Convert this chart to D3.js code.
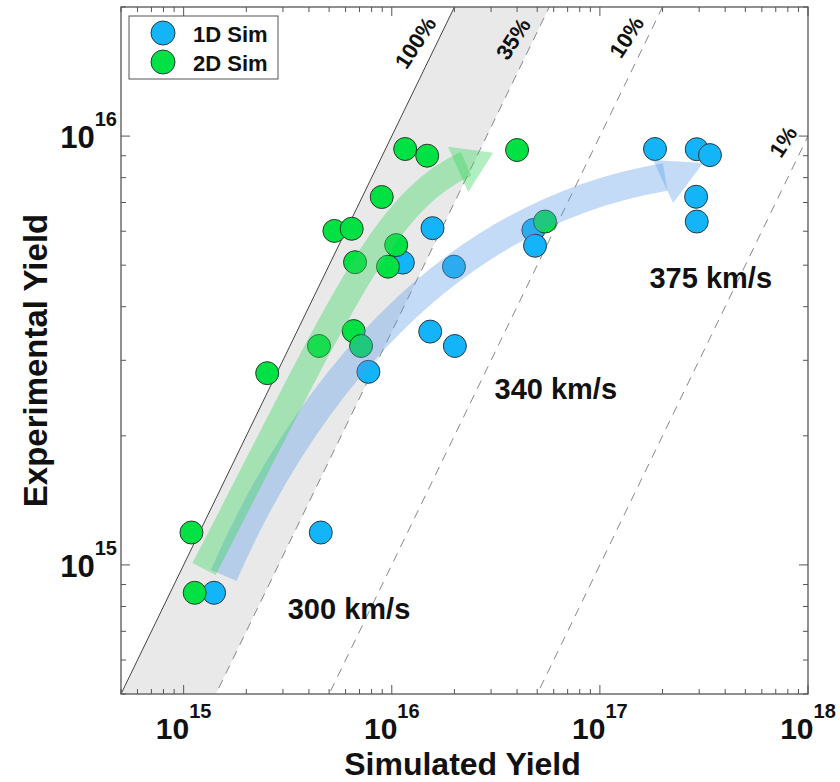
<!DOCTYPE html>
<html><head><meta charset="utf-8">
<script src="https://cdn.jsdelivr.net/npm/d3@7"></script>
<style>
body{margin:0;background:#fff}
text{font-family:"Liberation Sans",Arial,Helvetica,sans-serif;font-weight:bold;fill:#111}
</style>
</head><body>
<svg id="c" width="840" height="782"></svg>
<script>
// ---------------- data ----------------
const sim1D = [1.40e15, 4.56e15, 7.72e15, 1.53e16, 2.01e16, 1.13e16, 1.99e16, 1.57e16, 4.79e16, 4.88e16, 1.84e17, 2.92e17, 3.38e17, 2.90e17, 2.92e17];
const exp1D = [8.61e14, 1.19e15, 2.82e15, 3.50e15, 3.24e15, 5.07e15, 4.96e15, 6.10e15, 6.04e15, 5.55e15, 9.33e15, 9.32e15, 9.03e15, 7.22e15, 6.32e15];
const sim2D = [1.09e15, 1.13e15, 2.52e15, 4.47e15, 6.56e15, 7.12e15, 6.66e15, 9.59e15, 1.05e16, 5.30e15, 6.42e15, 8.95e15, 1.16e16, 1.48e16, 4.00e16, 5.45e16];
const exp2D = [1.19e15, 8.61e14, 2.80e15, 3.24e15, 3.51e15, 3.24e15, 5.08e15, 4.96e15, 5.57e15, 6.01e15, 6.08e15, 7.21e15, 9.33e15, 9.00e15, 9.28e15, 6.32e15];

const seriesNames = ["1D Sim", "2D Sim"];

const effFractions = [1, 0.35, 0.1, 0.01];
const effLabels = ["100%", "35%", "10%", "1%"];
const effLabelSim = [1.30e16, 3.84e16, 1.346e17, 7.61e17];
const effLabelExp = [1.65e16, 1.685e16, 1.70e16, 9.70e15];

const speedLabels = ["300 km/s", "340 km/s", "375 km/s"];
const speedSim = [6.23e15, 6.14e16, 3.41e17];
const speedExp = [7.48e14, 2.44e15, 4.42e15];

// arrow centre-lines: cubic Bézier control points [start, c1, c2, end]
const blueArrowSim = [1.557e15, 3.63e15, 1.706e16, 2.06e17];
const blueArrowExp = [9.45e14, 2.42e15, 6.55e15, 8.03e15];
const blueHeadSim = [1.80e17, 2.25e17, 3.13e17];
const blueHeadExp = [8.80e15, 6.98e15, 8.66e15];

const greenArrowSim = [1.253e15, 5.77e15, 9.18e15, 2.275e16];
const greenArrowExp = [9.78e14, 4.10e15, 7.06e15, 8.61e15];
const greenHeadSim = [1.862e16, 2.33e16, 3.07e16];
const greenHeadExp = [9.44e15, 7.41e15, 9.14e15];

const xTickVals = [1e15, 1e16, 1e17, 1e18];
const xTickExp = ["15", "16", "17", "18"];
const yTickVals = [1e15, 1e16];
const yTickExp = ["15", "16"];

// ---------------- chart ----------------
const L = 121, R = 808, T = 7, B = 694;
const x = d3.scaleLog().domain([5e14, 1e18]).range([L, R]);
const y = d3.scaleLog().domain([5e14, 2e16]).range([B, T]);
const svg = d3.select("#c");

const BLUE = "#14b4f8", GREEN = "#00e244";

svg.append("defs").append("clipPath").attr("id", "plot")
  .append("rect").attr("x", L).attr("y", T).attr("width", R - L).attr("height", B - T);

const plot = svg.append("g").attr("clip-path", "url(#plot)");

// shaded band between 100% and 35%
const [x0, x1] = x.domain(), [y0, y1] = y.domain();
const band = [[x0, x0], [y1, y1], [y1 / 0.35, y1], [y0 / 0.35, y0]];
plot.append("path")
  .attr("d", d3.line().x(d => x(d[0])).y(d => y(d[1]))(band) + "Z")
  .attr("fill", "#e9e9e9");

// efficiency lines
effFractions.forEach((f, i) => {
  const pts = [[x0, x0 * f], [x1, x1 * f]];
  plot.append("line")
    .attr("x1", x(pts[0][0])).attr("y1", y(pts[0][1]))
    .attr("x2", x(pts[1][0])).attr("y2", y(pts[1][1]))
    .attr("stroke", i === 0 ? "#444" : "#888")
    .attr("stroke-width", 1)
    .attr("stroke-dasharray", i === 0 ? null : "9,7");
});

// efficiency labels
effLabels.forEach((t, i) => {
  svg.append("text")
    .attr("transform", `translate(${x(effLabelSim[i])},${y(effLabelExp[i])}) rotate(-57)`)
    .attr("text-anchor", "middle").attr("dominant-baseline", "central")
    .attr("font-size", 22).text(t);
});

// points
const pts1 = sim1D.map((s, i) => [s, exp1D[i]]);
const pts2 = sim2D.map((s, i) => [s, exp2D[i]]);
svg.append("g").selectAll("circle").data(pts1).join("circle")
  .attr("cx", d => x(d[0])).attr("cy", d => y(d[1])).attr("r", 11.5)
  .attr("fill", BLUE).attr("stroke", "#2a3a44").attr("stroke-width", 1);
svg.append("g").selectAll("circle").data(pts2).join("circle")
  .attr("cx", d => x(d[0])).attr("cy", d => y(d[1])).attr("r", 11.5)
  .attr("fill", GREEN).attr("stroke", "#2a3a2a").attr("stroke-width", 1);

// arrows
function arrow(sims, exps, hs, he, color, op, w) {
  const g = svg.append("g");
  const p = d3.path();
  p.moveTo(x(sims[0]), y(exps[0]));
  p.bezierCurveTo(x(sims[1]), y(exps[1]), x(sims[2]), y(exps[2]), x(sims[3]), y(exps[3]));
  g.append("path").attr("d", p.toString())
    .attr("fill", "none").attr("stroke", color).attr("stroke-width", w)
    .attr("stroke-opacity", op).attr("stroke-linecap", "butt");
  g.append("path").attr("d", d3.line().x(d => x(d[0])).y(d => y(d[1]))(hs.map((s, i) => [s, he[i]])) + "Z")
    .attr("fill", color).attr("fill-opacity", op);
}
arrow(blueArrowSim, blueArrowExp, blueHeadSim, blueHeadExp, "#5a9ae6", 0.36, 28);
arrow(greenArrowSim, greenArrowExp, greenHeadSim, greenHeadExp, "#3cd862", 0.4, 26);

// speed labels
speedLabels.forEach((t, i) => {
  svg.append("text").attr("x", x(speedSim[i])).attr("y", y(speedExp[i]))
    .attr("text-anchor", "middle").attr("font-size", 29).text(t);
});

// frame
svg.append("rect").attr("x", L).attr("y", T).attr("width", R - L).attr("height", B - T)
  .attr("fill", "none").attr("stroke", "#555").attr("stroke-width", 1.3);

// ticks
const axG = svg.append("g").attr("stroke", "#555").attr("stroke-width", 1);
function logTicks(dom) {
  const out = [];
  for (let e = 14; e <= 18; e++) for (let m = 1; m <= 9; m++) {
    const v = m * Math.pow(10, e);
    if (v >= dom[0] * 0.999 && v <= dom[1] * 1.001) out.push({ v, major: m === 1 });
  }
  return out;
}
logTicks(x.domain()).forEach(t => {
  const len = t.major ? 9 : 5, px = x(t.v);
  axG.append("line").attr("x1", px).attr("x2", px).attr("y1", B).attr("y2", B - len);
  axG.append("line").attr("x1", px).attr("x2", px).attr("y1", T).attr("y2", T + len);
});
logTicks(y.domain()).forEach(t => {
  const len = t.major ? 9 : 5, py = y(t.v);
  axG.append("line").attr("y1", py).attr("y2", py).attr("x1", L).attr("x2", L + len);
  axG.append("line").attr("y1", py).attr("y2", py).attr("x1", R).attr("x2", R - len);
});

// tick labels
xTickVals.forEach((v, i) => {
  const t = svg.append("text").attr("x", x(v)).attr("y", 739).attr("text-anchor", "middle");
  t.append("tspan").attr("font-size", 30).text("10");
  t.append("tspan").attr("font-size", 20).attr("dy", -21).text(xTickExp[i]);
});
yTickVals.forEach((v, i) => {
  const t = svg.append("text").attr("x", 117).attr("y", y(v) + 12).attr("text-anchor", "end");
  t.append("tspan").attr("font-size", 31).text("10");
  t.append("tspan").attr("font-size", 20).attr("dy", -22).text(yTickExp[i]);
});

// axis titles
svg.append("text").attr("x", (L + R) / 2 - 2).attr("y", 775).attr("text-anchor", "middle")
  .attr("font-size", 32).text("Simulated Yield");
svg.append("text").attr("transform", `translate(47,${(T + B) / 2 + 10}) rotate(-90)`)
  .attr("text-anchor", "middle").attr("font-size", 33).text("Experimental Yield");

// legend
const lg = svg.append("g");
lg.append("rect").attr("x", 129).attr("y", 16).attr("width", 149).attr("height", 63)
  .attr("fill", "#fff").attr("stroke", "#555").attr("stroke-width", 1);
[BLUE, GREEN].forEach((c, i) => {
  lg.append("circle").attr("cx", 163).attr("cy", 33 + i * 29).attr("r", 12)
    .attr("fill", c).attr("stroke", "#2a3a44").attr("stroke-width", 1);
  lg.append("text").attr("x", 193).attr("y", 41.5 + i * 29).attr("font-size", 22).text(seriesNames[i]);
});
</script>
</body></html>
